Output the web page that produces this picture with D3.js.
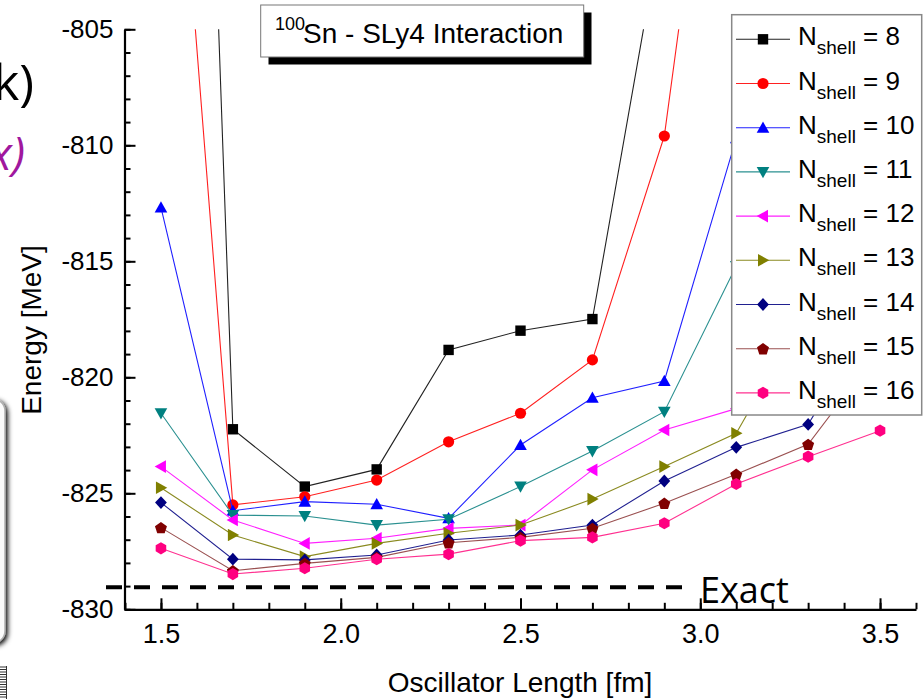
<!DOCTYPE html>
<html>
<head>
<meta charset="utf-8">
<script src="https://cdn.jsdelivr.net/npm/d3@7"></script>
<style>
  body { margin: 0; background: #fff; }
  svg { display: block; }
  text { font-family: "Liberation Sans", Arial, sans-serif; }
</style>
</head>
<body>
<div id="chart"></div>
<script>
// oscillator lengths (fm)
let oscLength = [1.5, 1.7, 1.9, 2.1, 2.3, 2.5, 2.7, 2.9, 3.1, 3.3, 3.5]

// energies (MeV) per Nshell
let eN8  = [-735.0, -822.24, -824.71, -823.97, -818.82, -817.99, -817.49, -799.9]
let eN9  = [-786.2, -825.50, -825.15, -824.43, -822.78, -821.55, -819.25, -809.60, -786.6]
let eN10 = [-812.68, -825.75, -825.36, -825.47, -826.08, -822.92, -820.88, -820.16, -809.7]
let eN11 = [-821.55, -825.94, -825.98, -826.37, -826.12, -824.71, -823.18, -821.48, -815.2]
let eN12 = [-823.85, -826.15, -827.16, -826.94, -826.51, -826.37, -823.99, -822.27, -821.35]
let eN13 = [-824.76, -826.80, -827.73, -827.16, -826.72, -826.37, -825.25, -823.85, -822.41, -817.0]
let eN14 = [-825.40, -827.84, -827.87, -827.66, -827.01, -826.80, -826.37, -824.47, -823.02, -822.03, -817.0]
let eN15 = [-826.48, -828.34, -828.02, -827.76, -827.13, -826.90, -826.51, -825.43, -824.18, -822.89, -818.8]
let eN16 = [-827.37, -828.48, -828.23, -827.84, -827.62, -827.04, -826.90, -826.29, -824.60, -823.42, -822.30]

let shellNames = ["8", "9", "10", "11", "12", "13", "14", "15", "16"]
let exactEnergy = -829.05

let xTicks = [1.5, 2.0, 2.5, 3.0, 3.5]
let yTicks = [-830, -825, -820, -815, -810, -805]

let series = [
  {n: shellNames[0], vals: eN8,  color: "#000000", line: "#222222", shape: "square"},
  {n: shellNames[1], vals: eN9,  color: "#ff0000", line: "#ff2020", shape: "circle"},
  {n: shellNames[2], vals: eN10, color: "#0000ff", line: "#2020ff", shape: "up"},
  {n: shellNames[3], vals: eN11, color: "#008080", line: "#2a9090", shape: "down"},
  {n: shellNames[4], vals: eN12, color: "#ff00ff", line: "#ff20ff", shape: "left"},
  {n: shellNames[5], vals: eN13, color: "#808000", line: "#8a8a20", shape: "right"},
  {n: shellNames[6], vals: eN14, color: "#000080", line: "#202090", shape: "diamond"},
  {n: shellNames[7], vals: eN15, color: "#800000", line: "#9a5050", shape: "pentagon"},
  {n: shellNames[8], vals: eN16, color: "#ff0080", line: "#ff3090", shape: "hexagon"}
]

let svgWidth = 924
let svgHeight = 699

let svg = d3.select("#chart")
  .append("svg")
  .attr("width", svgWidth)
  .attr("height", svgHeight)

let defs = svg.append("defs")
defs.append("clipPath").attr("id", "plotClip")
  .append("rect")
  .attr("x", 125).attr("y", 29.3)
  .attr("width", 916 - 125).attr("height", 609.3 - 29.3)

let shadow = defs.append("filter").attr("id", "boxShadow")
  .attr("x", "-50%").attr("y", "-10%").attr("width", "200%").attr("height", "120%")
shadow.append("feGaussianBlur").attr("in", "SourceAlpha").attr("stdDeviation", 2.5).attr("result", "b")
shadow.append("feOffset").attr("in", "b").attr("dx", 2).attr("dy", 2).attr("result", "o")
let merge = shadow.append("feMerge")
merge.append("feMergeNode").attr("in", "o")
merge.append("feMergeNode").attr("in", "SourceGraphic")

// scales
let x = d3.scaleLinear().domain([1.4, 3.6]).range([125, 916])
let y = d3.scaleLinear().domain([-830, -805]).range([609.3, 29.3])

// slide leftovers on the left edge
svg.append("text")
  .attr("x", 34).attr("y", 100)
  .attr("text-anchor", "end")
  .style("font-family", "'Open Sans', sans-serif")
  .style("font-size", "50px")
  .attr("fill", "#000")
  .text("k)")

svg.append("text")
  .attr("x", 25).attr("y", 170)
  .attr("text-anchor", "end")
  .style("font-family", "'Open Sans', sans-serif")
  .style("font-size", "46px")
  .style("font-style", "italic")
  .attr("fill", "#a0189e")
  .text("x)")

svg.append("rect")
  .attr("x", -30).attr("y", 399)
  .attr("width", 35).attr("height", 244)
  .attr("rx", 12)
  .attr("fill", "#fbfbfb")
  .attr("stroke", "#b0b0b0")
  .attr("stroke-width", 1.5)
  .attr("filter", "url(#boxShadow)")

let comb = svg.append("g").attr("stroke", "#333").attr("stroke-width", 1)
comb.append("line").attr("x1", 6.5).attr("x2", 6.5).attr("y1", 666).attr("y2", 699)
d3.range(667, 699, 2.5).forEach(v => {
  comb.append("line").attr("x1", 0).attr("x2", 6.5).attr("y1", v).attr("y2", v)
})

// axes
let yAxis = svg.append("g")
  .attr("transform", "translate(124.5,0)")
  .call(d3.axisLeft(y).tickValues(yTicks).tickFormat(d => String(d))
    .tickSizeInner(-11).tickSizeOuter(0).tickPadding(11))
yAxis.select(".domain").attr("stroke-width", 2.2)
yAxis.selectAll(".tick line").attr("stroke-width", 2)
yAxis.selectAll("text").style("font-size", "26px").attr("fill", "#000")
  .style("font-family", "'Liberation Sans', Arial, sans-serif")

svg.append("g")
  .attr("transform", "translate(124.5,0)")
  .call(d3.axisLeft(y).tickValues(d3.range(-830, -804, 1)).tickFormat("")
    .tickSizeInner(-6).tickSizeOuter(0))
  .call(g => g.select(".domain").remove())
  .selectAll("line").attr("stroke-width", 2)

let xAxis = svg.append("g")
  .attr("transform", "translate(0,609.3)")
  .call(d3.axisBottom(x).tickValues(xTicks).tickFormat(d3.format(".1f"))
    .tickSizeInner(-11).tickSizeOuter(0).tickPadding(14.5))
xAxis.select(".domain").attr("stroke-width", 2.2)
xAxis.selectAll(".tick line").attr("stroke-width", 2)
xAxis.selectAll("text").style("font-size", "27px").attr("fill", "#000")
  .style("font-family", "'Liberation Sans', Arial, sans-serif")

svg.append("g")
  .attr("transform", "translate(0,609.3)")
  .call(d3.axisBottom(x).tickValues(d3.range(14, 37, 1).map(d => d / 10)).tickFormat("")
    .tickSizeInner(-6.5).tickSizeOuter(0))
  .call(g => g.select(".domain").remove())
  .selectAll("line").attr("stroke-width", 2)

// axis titles
svg.append("text")
  .attr("transform", "translate(40.7,330) rotate(-90)")
  .attr("text-anchor", "middle")
  .style("font-size", "28px")
  .text("Energy [MeV]")

svg.append("text")
  .attr("x", 520).attr("y", 692)
  .attr("text-anchor", "middle")
  .style("font-size", "28px")
  .text("Oscillator Length [fm]")

// exact line
svg.append("line")
  .attr("x1", 106).attr("x2", 688)
  .attr("y1", y(exactEnergy)).attr("y2", y(exactEnergy))
  .attr("stroke", "#000")
  .attr("stroke-width", 4)
  .attr("stroke-dasharray", "16,12")

svg.append("text")
  .attr("x", 700).attr("y", 602.7)
  .style("font-family", "'Open Sans', sans-serif")
  .style("font-size", "36px")
  .text("Exact")

// marker shapes
function markerPath(shape) {
  let p = d3.path()
  let poly = pts => {
    p.moveTo(pts[0][0], pts[0][1])
    pts.slice(1).forEach(q => p.lineTo(q[0], q[1]))
    p.closePath()
  }
  if (shape === "square") poly([[-5.2, -5.2], [5.2, -5.2], [5.2, 5.2], [-5.2, 5.2]])
  else if (shape === "circle") { p.arc(0, 0, 5.6, 0, 2 * Math.PI); p.closePath() }
  else if (shape === "up") poly([[0, -6.3], [6.3, 5], [-6.3, 5]])
  else if (shape === "down") poly([[0, 6.3], [6.3, -5], [-6.3, -5]])
  else if (shape === "left") poly([[-6.3, 0], [5, -6.3], [5, 6.3]])
  else if (shape === "right") poly([[6.3, 0], [-5, -6.3], [-5, 6.3]])
  else if (shape === "diamond") poly([[0, -6.4], [5.9, 0], [0, 6.4], [-5.9, 0]])
  else if (shape === "pentagon") poly(d3.range(5).map(i => {
    let a = -Math.PI / 2 + i * 2 * Math.PI / 5
    return [6.3 * Math.cos(a), 6.3 * Math.sin(a) + 0.6]
  }))
  else if (shape === "hexagon") poly(d3.range(6).map(i => {
    let a = -Math.PI / 2 + i * Math.PI / 3
    return [6.1 * Math.cos(a), 6.1 * Math.sin(a)]
  }))
  return p.toString()
}

// series
let plot = svg.append("g").attr("clip-path", "url(#plotClip)")
let line = d3.line()
  .x((d, i) => x(oscLength[i]))
  .y(d => y(d))

series.forEach(s => {
  plot.append("path")
    .datum(s.vals)
    .attr("d", line)
    .attr("fill", "none")
    .attr("stroke", s.line)
    .attr("stroke-width", 1.1)
  plot.selectAll(null)
    .data(s.vals)
    .enter()
    .append("path")
    .attr("d", markerPath(s.shape))
    .attr("transform", (d, i) => `translate(${x(oscLength[i])},${y(d)})`)
    .attr("fill", s.color)
})

// title box
svg.append("rect")
  .attr("x", 268.5).attr("y", 12.5)
  .attr("width", 323).attr("height", 52)
  .attr("fill", "#000")
svg.append("rect")
  .attr("x", 260.7).attr("y", 5)
  .attr("width", 323).attr("height", 52)
  .attr("fill", "#fff")
  .attr("stroke", "#777")
  .attr("stroke-width", 1)
let title = svg.append("text")
  .attr("x", 275).attr("y", 43.3)
  .style("font-size", "28px")
title.append("tspan").style("font-size", "18px").attr("dy", -13).text("100")
title.append("tspan").attr("dy", 13).attr("x", 303).text("Sn - SLy4 Interaction")

// legend
let legend = svg.append("g")
legend.append("rect")
  .attr("x", 731.7).attr("y", 14.7)
  .attr("width", 190).attr("height", 400.3)
  .attr("fill", "#fff")
  .attr("stroke", "#888")
  .attr("stroke-width", 1.5)

series.forEach((s, i) => {
  let cy = 39.3 + 44.2 * i
  legend.append("line")
    .attr("x1", 736).attr("x2", 790)
    .attr("y1", cy).attr("y2", cy)
    .attr("stroke", s.line)
    .attr("stroke-width", 1.1)
  legend.append("path")
    .attr("d", markerPath(s.shape))
    .attr("transform", `translate(763,${cy})`)
    .attr("fill", s.color)
  let t = legend.append("text")
    .attr("x", 798).attr("y", cy + 6)
    .style("font-size", "26px")
  t.append("tspan").text("N")
  t.append("tspan").style("font-size", "19px").attr("dy", 9).text("shell")
  t.append("tspan").attr("dy", -9).text(" = " + s.n)
})
</script>
</body>
</html>
